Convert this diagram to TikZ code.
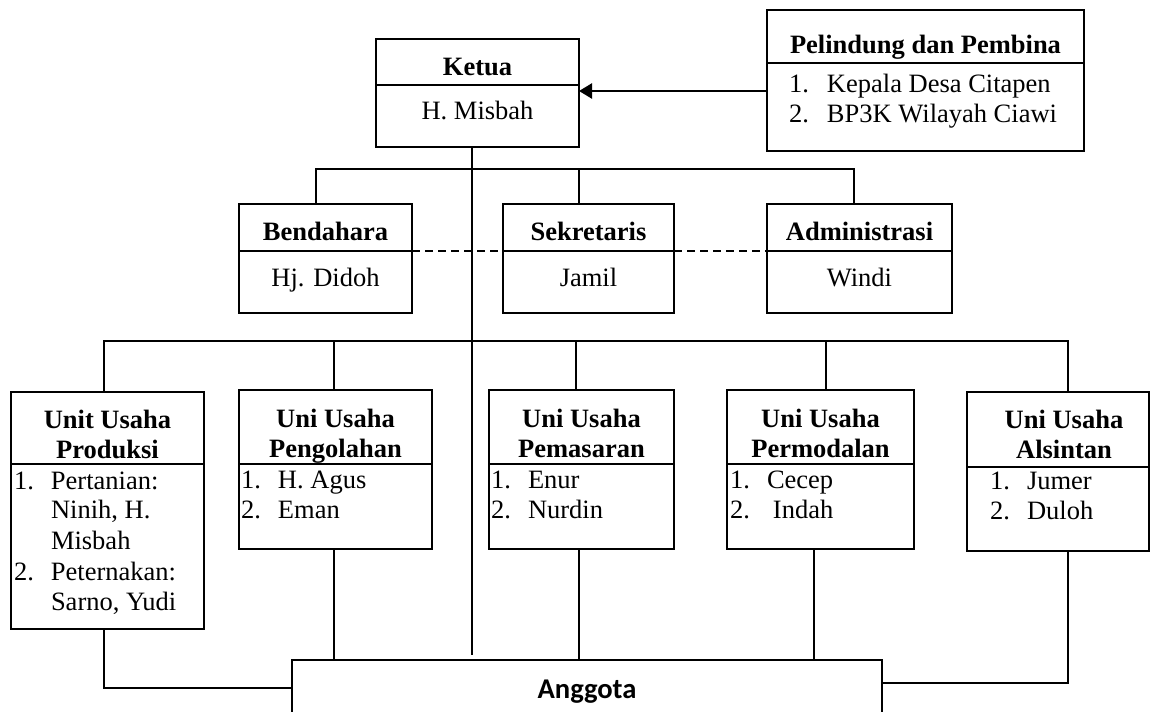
\documentclass[tikz,border=0pt]{standalone}
\usepackage{fontspec}
\setmainfont{Liberation Serif}
\newfontfamily\calibri{Carlito}
\usetikzlibrary{arrows.meta}

\begin{document}
\begin{tikzpicture}[x=1pt,y=-1pt,
  every node/.style={inner sep=0pt, outer sep=0pt},
  box/.style={draw, line width=2pt, anchor=north west},
  rule/.style={line width=1.6pt},
  conn/.style={line width=1.6pt},
  dashline/.style={line width=1.5pt, dash pattern=on 8pt off 5pt},
  hd/.style={font=\bfseries\fontsize{26.5}{30.5}\selectfont, anchor=base},
  nm/.style={font=\fontsize{26.5}{30.5}\selectfont, anchor=base},
  item/.style={font=\fontsize{26.5}{30.5}\selectfont, anchor=base west},
  num/.style={item, text width=37pt}]

\useasboundingbox (0,0) rectangle (1151,712);

% ---------- boxes ----------
\node[box, minimum width=203pt, minimum height=108pt] (ketua)      at (376,39)  {};
\node[box, minimum width=317pt, minimum height=141pt] (pelindung)  at (767,10)  {};
\node[box, minimum width=173pt, minimum height=109pt] (bendahara)  at (239,204) {};
\node[box, minimum width=171pt, minimum height=109pt] (sekretaris) at (503,204) {};
\node[box, minimum width=185pt, minimum height=109pt] (admin)      at (767,204) {};
\node[box, minimum width=193pt, minimum height=237pt] (produksi)   at (11,392)  {};
\node[box, minimum width=193pt, minimum height=159pt] (pengolahan) at (239,390) {};
\node[box, minimum width=185pt, minimum height=159pt] (pemasaran)  at (489,390) {};
\node[box, minimum width=187pt, minimum height=159pt] (permodalan) at (727,390) {};
\node[box, minimum width=182pt, minimum height=159pt] (alsintan)   at (967,392) {};
\node[box, minimum width=590pt, minimum height=80pt]  (anggota)    at (292,660) {};

% ---------- header rules ----------
\draw[rule] (ketua.west |- 0,85)      -- (ketua.east |- 0,85);
\draw[rule] (pelindung.west |- 0,63)  -- (pelindung.east |- 0,63);
\draw[rule] (bendahara.west |- 0,251) -- (bendahara.east |- 0,251);
\draw[rule] (sekretaris.west |- 0,251) -- (sekretaris.east |- 0,251);
\draw[rule] (admin.west |- 0,251)     -- (admin.east |- 0,251);
\draw[rule] (produksi.west |- 0,464)  -- (produksi.east |- 0,464);
\draw[rule] (pengolahan.west |- 0,464) -- (pengolahan.east |- 0,464);
\draw[rule] (pemasaran.west |- 0,464) -- (pemasaran.east |- 0,464);
\draw[rule] (permodalan.west |- 0,464) -- (permodalan.east |- 0,464);
\draw[rule] (alsintan.west |- 0,467)  -- (alsintan.east |- 0,467);

% ---------- connectors ----------
\coordinate (trunkEnd) at (472,655);
\draw[conn] (ketua.south -| trunkEnd) -- (trunkEnd);

\coordinate (topL) at (316,169);
\coordinate (topM) at (579,169);
\coordinate (topR) at (854,169);
\draw[conn] (bendahara.north -| topL) -- (topL) -- (topR) -- (admin.north -| topR);
\draw[conn] (topM) -- (sekretaris.north -| topM);

\coordinate (botL) at (104,341);
\coordinate (botR) at (1068,341);
\draw[conn] (produksi.north -| botL) -- (botL) -- (botR) -- (alsintan.north -| botR);
\draw[conn] (334,341) -- (pengolahan.north -| 334,0);
\draw[conn] (576,341) -- (pemasaran.north -| 576,0);
\draw[conn] (826,341) -- (permodalan.north -| 826,0);

\draw[conn] (produksi.south -| 104,0) |- (anggota.west |- 0,688);
\draw[conn] (pengolahan.south -| 334,0) -- (anggota.north -| 334,0);
\draw[conn] (pemasaran.south -| 579,0) -- (anggota.north -| 579,0);
\draw[conn] (permodalan.south -| 814,0) -- (anggota.north -| 814,0);
\draw[conn] (alsintan.south -| 1068,0) |- (anggota.east |- 0,683);

\draw[dashline] (bendahara.east |- 0,251) -- (sekretaris.west |- 0,251);
\draw[dashline] (sekretaris.east |- 0,251) -- (admin.west |- 0,251);

\draw[line width=2.4pt, -{Triangle[length=13pt,width=15pt]}]
  (pelindung.west |- 0,91) -- (ketua.east |- 0,91);

% ---------- texts ----------
\node[hd] (t-ketua) at (477.5,75) {Ketua};
\node[nm] (n-ketua) at (477.5,119) {H. Misbah};

\node[hd] (t-pel) at (925.5,53) {Pelindung dan Pembina};
\node[item] (p1) at (789,92)  {\makebox[38pt][l]{1.}Kepala Desa Citapen};
\node[item] (p2) at (789,122) {\makebox[38pt][l]{2.}BP3K Wilayah Ciawi};

\node[hd] (t-ben) at (325.5,240) {Bendahara};
\node[nm] (n-ben) at (325.5,286) {Hj. Didoh};
\node[hd] (t-sek) at (588.5,240) {Sekretaris};
\node[nm] (n-sek) at (588.5,286) {Jamil};
\node[hd] (t-adm) at (859.5,240) {Administrasi};
\node[nm] (n-adm) at (859.5,286) {Windi};

\node[hd] (t-pro1) at (107.5,428) {Unit Usaha};
\node[hd] (t-pro2) at (107.5,458) {Produksi};
\node[item] (pr1) at (14,489) {\makebox[37pt][l]{1.}Pertanian:};
\node[item] (pr2) at (51,518) {Ninih, H.};
\node[item] (pr3) at (51,549) {Misbah};
\node[item] (pr4) at (14,580) {\makebox[37pt][l]{2.}Peternakan:};
\node[item] (pr5) at (51,610) {Sarno, Yudi};

\node[hd] (t-peng1) at (335.5,427) {Uni Usaha};
\node[hd] (t-peng2) at (335.5,457) {Pengolahan};
\node[item] (pg1) at (241,488) {\makebox[37pt][l]{1.}H. Agus};
\node[item] (pg2) at (241,518) {\makebox[37pt][l]{2.}Eman};

\node[hd] (t-pem1) at (581.5,427) {Uni Usaha};
\node[hd] (t-pem2) at (581.5,457) {Pemasaran};
\node[item] (pm1) at (491,488) {\makebox[37pt][l]{1.}Enur};
\node[item] (pm2) at (491,518) {\makebox[37pt][l]{2.}Nurdin};

\node[hd] (t-mod1) at (820.5,427) {Uni Usaha};
\node[hd] (t-mod2) at (820.5,457) {Permodalan};
\node[item] (md1) at (730,488) {\makebox[37pt][l]{1.}Cecep};
\node[item] (md2) at (730,518) {\makebox[43pt][l]{2.}Indah};

\node[hd] (t-als1) at (1064,428) {Uni Usaha};
\node[hd] (t-als2) at (1064,458) {Alsintan};
\node[item] (al1) at (990,489) {\makebox[37pt][l]{1.}Jumer};
\node[item] (al2) at (990,519) {\makebox[37pt][l]{2.}Duloh};

\node[anchor=base, font=\calibri\bfseries\fontsize{28.6}{32}\selectfont] (t-ang) at (587,698) {Anggota};
\end{tikzpicture}
\end{document}
